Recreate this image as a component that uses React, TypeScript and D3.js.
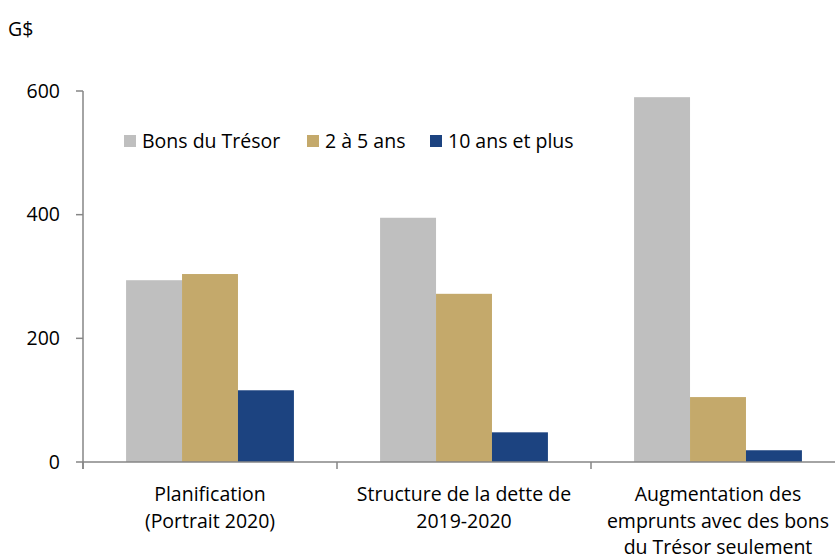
import React from "react";
import * as d3 from "d3";

const categories = [
  ["Planification", "(Portrait 2020)"],
  ["Structure de la dette de", "2019-2020"],
  ["Augmentation des", "emprunts avec des bons", "du Trésor seulement"],
];
const seriesNames = ["Bons du Trésor", "2 à 5 ans", "10 ans et plus"];
const seriesColors = ["#BFBFBF", "#C4A96B", "#1C4380"];
const bonsTresor = [294, 395, 590];
const deuxACinq = [304, 272, 105];
const dixEtPlus = [116, 48, 19];
const yTicks = [0, 200, 400, 600];

const values = [bonsTresor, deuxACinq, dixEtPlus];

export default function App() {
  const width = 835;
  const height = 559;
  const font = "'Open Sans', 'Noto Sans', sans-serif";
  const fs = 19.5;
  const axisColor = "#868686";

  const x0 = d3.scaleBand<number>().domain([0, 1, 2]).range([83, 845]);
  const x1 = d3
    .scaleBand<number>()
    .domain([0, 1, 2])
    .range([0, x0.bandwidth()])
    .paddingInner(0)
    .paddingOuter(0.77);
  const y = d3.scaleLinear().domain([0, 600]).range([462, 91]);

  const legendX = [124, 307, 430];

  return (
    <svg width={width} height={height} style={{ position: "absolute", left: 0, top: 0 }}>
      <rect width={width} height={height} fill="#fff" />
      <text x={8} y={36} fontFamily={font} fontSize={fs} fill="#000">G$</text>

      {values.map((vals, s) =>
        vals.map((v, c) => (
          <rect
            key={`${s}-${c}`}
            x={(x0(c) ?? 0) + (x1(s) ?? 0)}
            y={y(v)}
            width={x1.bandwidth()}
            height={y(0) - y(v)}
            fill={seriesColors[s]}
          />
        ))
      )}

      {/* y axis */}
      <line x1={83} x2={83} y1={y(600)} y2={y(0) + 7} stroke={axisColor} strokeWidth={1.5} />
      {yTicks.map((t) => (
        <g key={t}>
          <line x1={76} x2={83} y1={y(t)} y2={y(t)} stroke={axisColor} strokeWidth={1.5} />
          <text x={60} y={y(t)} dy="0.35em" textAnchor="end" fontFamily={font} fontSize={fs} fill="#000">
            {t}
          </text>
        </g>
      ))}

      {/* x axis */}
      <line x1={83} x2={835} y1={y(0)} y2={y(0)} stroke={axisColor} strokeWidth={1.5} />
      {[0, 1, 2].map((c) => (
        <line key={c} x1={x0(c)} x2={x0(c)} y1={y(0)} y2={y(0) + 7} stroke={axisColor} strokeWidth={1.5} />
      ))}
      {categories.map((lines, c) => {
        const cx = (x0(c) ?? 0) + (x1(0) ?? 0) + (3 * x1.bandwidth()) / 2;
        return (
          <text key={c} y={501} textAnchor="middle" fontFamily={font} fontSize={fs} fill="#000">
            {lines.map((l, i) => (
              <tspan key={i} x={cx} dy={i === 0 ? 0 : 26.5}>
                {l}
              </tspan>
            ))}
          </text>
        );
      })}

      {/* legend */}
      {seriesNames.map((n, i) => (
        <g key={n}>
          <rect x={legendX[i]} y={135} width={12} height={12} fill={seriesColors[i]} />
          <text x={legendX[i] + 18} y={148} fontFamily={font} fontSize={fs} fill="#000">
            {n}
          </text>
        </g>
      ))}
    </svg>
  );
}
